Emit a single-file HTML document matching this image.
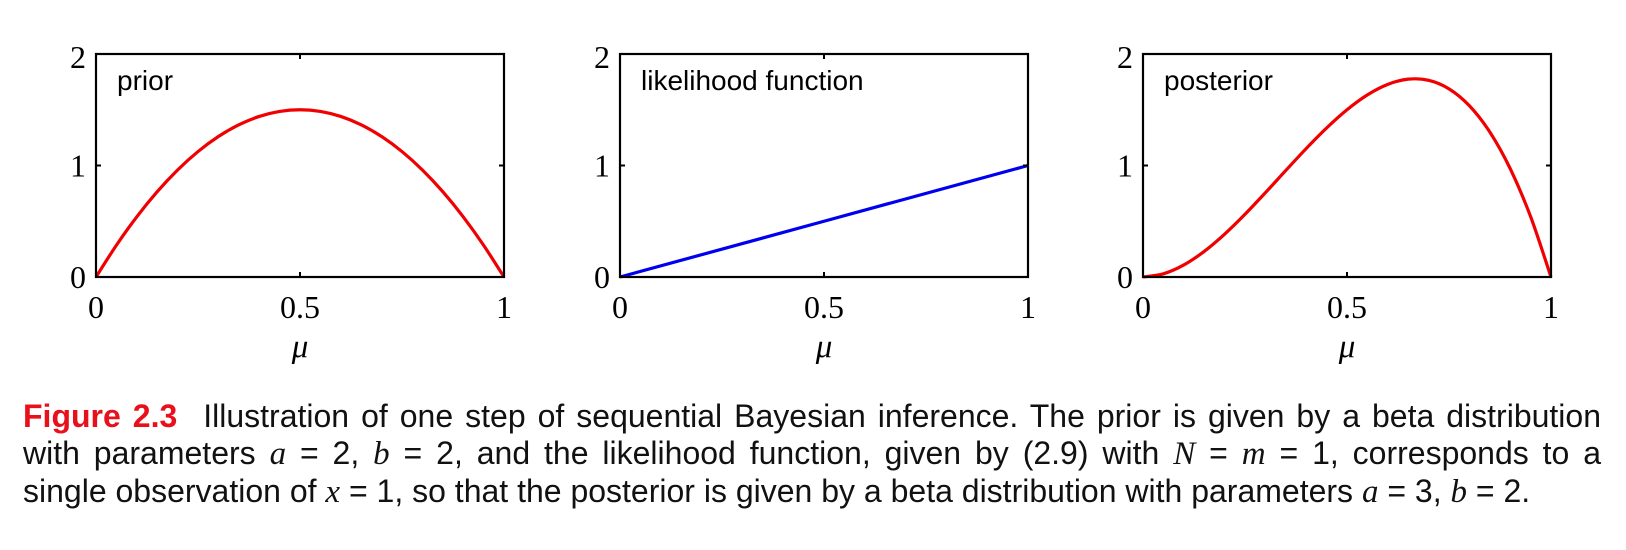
<!DOCTYPE html>
<html><head><meta charset="utf-8"><style>
body{margin:0;background:#fff;width:1626px;height:550px;overflow:hidden;position:relative}
svg{position:absolute;left:0;top:0}
#caption{position:absolute;left:23px;top:398px;width:1578px;font-family:"Liberation Sans",sans-serif;font-size:32px;line-height:37px;color:#111}
#caption div{text-align:justify;text-align-last:justify;white-space:nowrap}
#caption div.last{text-align-last:left}
#caption .fig{color:#e8101a;font-weight:bold;margin-right:14px}
#caption i{font-family:"Liberation Serif",serif;font-size:33px}
</style></head><body>
<svg id="chart" width="1626" height="550"></svg>
<div id="caption">
<div><span class="fig">Figure 2.3</span> Illustration of one step of sequential Bayesian inference. The prior is given by a beta distribution</div>
<div>with parameters <i>a</i> = 2, <i>b</i> = 2, and the likelihood function, given by (2.9) with <i>N</i> = <i>m</i> = 1, corresponds to a</div>
<div class="last">single observation of <i>x</i> = 1, so that the posterior is given by a beta distribution with parameters <i>a</i> = 3, <i>b</i> = 2.</div>
</div>
<script>
const muGrid=[0,0.05,0.1,0.15,0.2,0.25,0.3,0.35,0.4,0.45,0.5,0.55,0.6,0.65,0.7,0.75,0.8,0.85,0.9,0.95,1];
const priorValues=[0,0.285,0.54,0.765,0.96,1.125,1.26,1.365,1.44,1.485,1.5,1.485,1.44,1.365,1.26,1.125,0.96,0.765,0.54,0.285,0];
const likelihoodMu=[0,1];
const likelihoodValues=[0,1];
const posteriorValues=[0,0.0285,0.108,0.2295,0.384,0.5625,0.756,0.9555,1.152,1.3365,1.5,1.6335,1.728,1.7745,1.764,1.6875,1.536,1.3005,0.972,0.5415,0];
const xTickLabels=["0","0.5","1"];
const xTickValues=[0,0.5,1];
const yTickLabels=["0","1","2"];
const yTickValues=[0,1,2];
const panelTitles=["prior","likelihood function","posterior"];

const NS="http://www.w3.org/2000/svg";
const svg=document.getElementById('chart');
const panels=[
 {left:96,title:panelTitles[0],xs:muGrid,ys:priorValues,color:"#f00000",name:"prior"},
 {left:620,title:panelTitles[1],xs:likelihoodMu,ys:likelihoodValues,color:"#0000f0",name:"likelihood"},
 {left:1143,title:panelTitles[2],xs:muGrid,ys:posteriorValues,color:"#f00000",name:"posterior"}];
const W=408,plotTop=54,plotBottom=277;
function mk(tag,attrs){const e=document.createElementNS(NS,tag);for(const k in attrs)e.setAttribute(k,attrs[k]);return e;}
panels.forEach(p=>{
 const xS=v=>p.left+v*W, yS=v=>plotBottom-v/2*(plotBottom-plotTop);
 const g=mk('g',{});
 
 
 svg.appendChild(g);
 const pts=p.xs.map((x,i)=>[xS(x),yS(p.ys[i])]);
 let d='M'+pts[0][0]+','+pts[0][1];
 for(let i=0;i<pts.length-1;i++){
  const p0=pts[Math.max(i-1,0)],p1=pts[i],p2=pts[i+1],p3=pts[Math.min(i+2,pts.length-1)];
  const c1=[p1[0]+(p2[0]-p0[0])/6,p1[1]+(p2[1]-p0[1])/6],c2=[p2[0]-(p3[0]-p1[0])/6,p2[1]-(p3[1]-p1[1])/6];
  d+=` C${c1[0]},${c1[1]} ${c2[0]},${c2[1]} ${p2[0]},${p2[1]}`;
 }
 const path=mk('path',{d:d,fill:'none',stroke:p.color,'stroke-width':3.2});
 
 
 g.appendChild(path);
 const box=mk('rect',{x:p.left,y:plotTop,width:W,height:plotBottom-plotTop,fill:'none',stroke:'#000','stroke-width':2.2});
 
 
 g.appendChild(box);
 xTickValues.forEach((v,i)=>{
  const x=xS(v);
  g.appendChild(mk('line',{x1:x,x2:x,y1:plotBottom,y2:plotBottom-5,stroke:'#000','stroke-width':2}));
  g.appendChild(mk('line',{x1:x,x2:x,y1:plotTop,y2:plotTop+5,stroke:'#000','stroke-width':2}));
  const t=mk('text',{x:x,y:318,'text-anchor':'middle','font-family':'Liberation Serif, serif','font-size':32});
  t.textContent=xTickLabels[i];
  
  
  g.appendChild(t);
 });
 yTickValues.forEach((v,i)=>{
  const y=yS(v);
  g.appendChild(mk('line',{x1:p.left,x2:p.left+5,y1:y,y2:y,stroke:'#000','stroke-width':2}));
  g.appendChild(mk('line',{x1:p.left+W,x2:p.left+W-5,y1:y,y2:y,stroke:'#000','stroke-width':2}));
  const t=mk('text',{x:p.left-10,y:y+(i===2?14:11),'text-anchor':'end','font-family':'Liberation Serif, serif','font-size':32});
  t.textContent=yTickLabels[i];
  
  
  g.appendChild(t);
 });
 const xl=mk('text',{x:xS(0.5),y:357,'text-anchor':'middle','font-family':'Liberation Serif, serif','font-style':'italic','font-size':33});
 xl.textContent='μ';
 
 
 g.appendChild(xl);
 const tt=mk('text',{x:p.left+21,y:90,'font-family':'Liberation Sans, sans-serif','font-size':28});
 tt.textContent=p.title;
 
 
 g.appendChild(tt);
});
</script>
</body></html>
